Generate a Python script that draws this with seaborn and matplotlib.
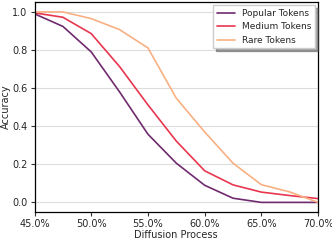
import numpy as np
import pandas as pd
import seaborn as sns
import matplotlib.pyplot as plt
from matplotlib.ticker import PercentFormatter

# diffusion process steps (%)
steps = [45.0, 47.5, 50.0, 52.5, 55.0, 57.5, 60.0, 62.5, 65.0, 67.5, 70.0]
popular = [0.99, 0.924, 0.79, 0.58, 0.358, 0.206, 0.09, 0.022, 0.0, 0.0, 0.0]
medium = [0.995, 0.972, 0.886, 0.713, 0.512, 0.322, 0.166, 0.092, 0.054, 0.036, 0.02]
rare = [1.0, 1.0, 0.965, 0.907, 0.811, 0.547, 0.37, 0.206, 0.093, 0.055, 0.0]

labels = ["Popular Tokens", "Medium Tokens", "Rare Tokens"]
colors = ["#702a6e", "#e8364f", "#f8b083"]

df = pd.DataFrame({"step": steps * 3,
                   "acc": popular + medium + rare,
                   "group": sum([[l] * len(steps) for l in labels], [])})

sns.set_theme(style="whitegrid")
plt.rcParams['font.family'] = ['DejaVu Sans']

fig, ax = plt.subplots(figsize=(3.32, 2.4), dpi=100)
sns.lineplot(data=df, x="step", y="acc", hue="group", palette=colors,
             linewidth=1.2, ax=ax)

ax.set_xlim(45, 70)
ax.set_ylim(-0.05, 1.05)
ax.set_xticks([45, 50, 55, 60, 65, 70])
ax.set_yticks([0.0, 0.2, 0.4, 0.6, 0.8, 1.0])
ax.xaxis.set_major_formatter(PercentFormatter(decimals=1))
ax.grid(axis='x', visible=False)
ax.grid(axis='y', color='#dddddd', linewidth=0.8)
for s in ax.spines.values():
    s.set_color('black')
    s.set_linewidth(0.9)
ax.tick_params(axis='both', labelsize=7, length=3, width=0.8, color='#333333', pad=2, bottom=True, left=True)
ax.set_xlabel("Diffusion Process", fontsize=7, labelpad=1)
ax.set_ylabel("Accuracy", fontsize=7, labelpad=1)
leg = ax.legend(title=None, fontsize=6.5, loc='upper right', frameon=True,
                fancybox=False, shadow=True, handlelength=2.0,
                borderaxespad=0.3)

plt.subplots_adjust(left=0.104, right=0.958, top=0.99, bottom=0.117)
fig.savefig("out.png", dpi=100)
